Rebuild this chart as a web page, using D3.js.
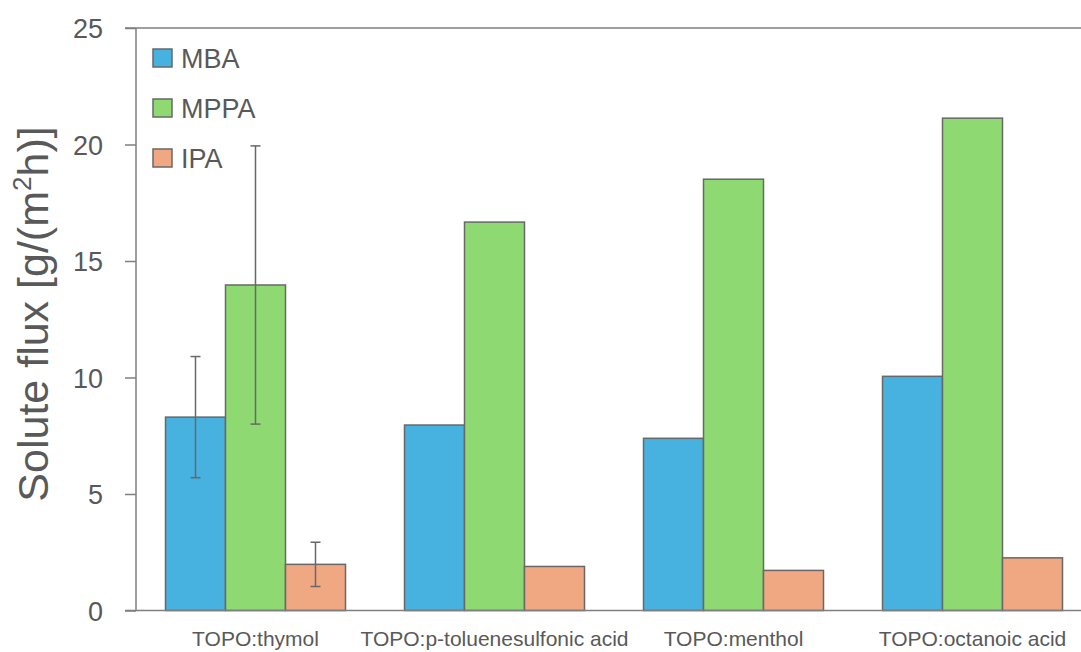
<!DOCTYPE html>
<html><head><meta charset="utf-8">
<script src="https://cdn.jsdelivr.net/npm/d3@7"></script>
<style>html,body{margin:0;padding:0;background:#fff;}svg{display:block;}</style>
</head><body>
<svg id="c" width="1081" height="652"></svg>
<script>
const categories = ["TOPO:thymol","TOPO:p-toluenesulfonic acid","TOPO:menthol","TOPO:octanoic acid"];
const seriesNames = ["MBA","MPPA","IPA"];
const MBA  = [8.30, 7.96, 7.39, 10.05];
const MPPA = [13.97, 16.67, 18.51, 21.13];
const IPA  = [1.98, 1.89, 1.72, 2.26];
const errMBA  = [2.60, null, null, null];
const errMPPA = [5.97, null, null, null];
const errIPA  = [0.95, null, null, null];
const yTicks = [0,5,10,15,20,25];
const colors = ["#47B1E0","#8FD972","#F0A882"];

const values = [MBA, MPPA, IPA];
const errs = [errMBA, errMPPA, errIPA];

const svg = d3.select("#c");
const W = 1081;
const mLeft = 136, mRight = 1092, mTop = 28, mBottom = 610.5;
const inner = 59/239;

const x0 = d3.scaleBand().domain(categories).range([mLeft, mRight]).paddingInner(inner).paddingOuter(inner/2);
const x1 = d3.scaleBand().domain(seriesNames).range([0, x0.bandwidth()]);
const y = d3.scaleLinear().domain([0,25]).range([mBottom, mTop]);

const axisCol = "#7f7f7f";
const textCol = "#595959";
const font = "'Liberation Sans', Arial, sans-serif";

svg.append("line").attr("x1",125).attr("x2",W).attr("y1",y(25)).attr("y2",y(25))
  .attr("stroke",axisCol).attr("stroke-width",1.5);

seriesNames.forEach((s, si) => {
  const g = svg.append("g");
  g.selectAll("rect").data(categories).join("rect")
    .attr("x", c => x0(c) + x1(s))
    .attr("y", (c,i) => y(values[si][i]))
    .attr("width", x1.bandwidth())
    .attr("height", (c,i) => y(0) - y(values[si][i]))
    .attr("fill", colors[si])
    .attr("stroke", "#686868")
    .attr("stroke-width", 1.5);
});

seriesNames.forEach((s, si) => {
  categories.forEach((c, i) => {
    const e = errs[si][i];
    if (e == null) return;
    const cx = x0(c) + x1(s) + x1.bandwidth()/2;
    const v = values[si][i];
    const g = svg.append("g").attr("stroke","#686868").attr("stroke-width",1.5);
    g.append("line").attr("x1",cx).attr("x2",cx).attr("y1",y(v+e)).attr("y2",y(v-e));
    g.append("line").attr("x1",cx-5).attr("x2",cx+5).attr("y1",y(v+e)).attr("y2",y(v+e));
    g.append("line").attr("x1",cx-5).attr("x2",cx+5).attr("y1",y(v-e)).attr("y2",y(v-e));
  });
});

const yAxis = d3.axisLeft(y).tickValues(yTicks).tickSize(11).tickPadding(22).tickFormat(d3.format("d"));
const ya = svg.append("g").attr("transform",`translate(${mLeft},0)`).call(yAxis);
ya.select(".domain").attr("stroke",axisCol).attr("stroke-width",1.5).attr("d",`M0,${mTop}V${mBottom}`);
ya.selectAll(".tick line").attr("stroke",axisCol).attr("stroke-width",1.5);
ya.selectAll(".tick text").attr("fill",textCol).attr("font-family",font)
  .attr("font-size",27).attr("dy","0.36em");

const xAxis = d3.axisBottom(x0).tickSize(0).tickPadding(21);
const xa = svg.append("g").attr("transform",`translate(0,${mBottom})`).call(xAxis);
xa.select(".domain").attr("stroke",axisCol).attr("stroke-width",1.5).attr("d",`M125,0H${W}`);
xa.selectAll(".tick text").attr("fill",textCol)
  .attr("font-family",font)
  .attr("font-size",21).attr("dy","0.71em");

const t = svg.append("text").attr("transform","translate(48,314) rotate(-90)")
  .attr("text-anchor","middle").attr("fill",textCol)
  .attr("font-family",font).attr("font-size",43);
t.append("tspan").text("Solute flux [g/(m");
t.append("tspan").attr("font-size",26).attr("dy",-17).text("2");
t.append("tspan").attr("dy",17).text("h)]");

const lg = svg.append("g");
seriesNames.forEach((s, i) => {
  const yy = 58 + i*50;
  lg.append("rect").attr("x",153).attr("y",yy-9).attr("width",19).attr("height",18)
    .attr("fill",colors[i]).attr("stroke","#686868").attr("stroke-width",1.5);
  lg.append("text").attr("x",181).attr("y",yy).attr("dy","0.36em").attr("fill",textCol)
    .attr("font-family",font).attr("font-size",27).text(s);
});
</script>
</body></html>
